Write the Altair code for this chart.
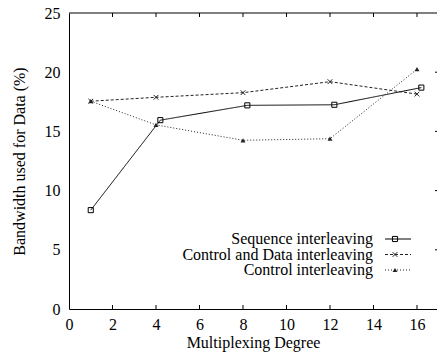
import altair as alt
import pandas as pd

# ---- data ----
series_names = ["Sequence interleaving", "Control and Data interleaving", "Control interleaving"]
seq_x = [1, 4.2, 8.2, 12.2, 16.2]
seq_y = [8.35, 15.95, 17.2, 17.25, 18.7]
cd_x = [1, 4, 8, 12, 16]
cd_y = [17.55, 17.88, 18.27, 19.2, 18.15]
ctl_x = [1, 4, 8, 12, 16]
ctl_y = [17.55, 15.55, 14.25, 14.38, 20.25]
x_ticks = [0, 2, 4, 6, 8, 10, 12, 14, 16]
y_ticks = [0, 5, 10, 15, 20, 25]

W, H = 368, 296
FONT = "Liberation Serif, Times New Roman, serif"
FS = 16

styles = {
    "Sequence interleaving": dict(dash=[1, 0], shape="square", filled=False, color="#000000", size=26),
    "Control and Data interleaving": dict(dash=[3, 2], shape="M-1,-1L1,1M1,-1L-1,1", filled=False, color="#222222", size=22),
    "Control interleaving": dict(dash=[1, 2], shape="triangle-up", filled=True, color="#222222", size=24),
}

frames = []
for name, xs, ys in zip(series_names, [seq_x, cd_x, ctl_x], [seq_y, cd_y, ctl_y]):
    frames.append(pd.DataFrame({"series": name, "x": xs, "y": ys}))
df = pd.concat(frames, ignore_index=True)

xscale = alt.Scale(domain=[0, 16.92], nice=False, zero=False)
yscale = alt.Scale(domain=[0, 25], nice=False)

xenc = alt.X("x:Q", scale=xscale,
             axis=alt.Axis(values=x_ticks, title="Multiplexing Degree", tickSize=0,
                           labelPadding=7, labelFontSize=FS, titleFontSize=FS,
                           titleFontWeight="normal", titlePadding=2, grid=False,
                           domainColor="#000", labelColor="#000", titleColor="#000",
                           labelFont=FONT, titleFont=FONT, labelFlush=False))
yenc = alt.Y("y:Q", scale=yscale,
             axis=alt.Axis(values=y_ticks, title="Bandwidth used for Data (%)", tickSize=0,
                           labelPadding=9, labelFontSize=FS, titleFontSize=FS,
                           titleFontWeight="normal", titlePadding=17, grid=False,
                           domainColor="#000", labelColor="#000", titleColor="#000",
                           labelFont=FONT, titleFont=FONT))

layers = []
for name in series_names:
    st = styles[name]
    sub = df[df.series == name]
    base = alt.Chart(sub)
    layers.append(base.mark_line(color=st["color"], strokeWidth=1, strokeDash=st["dash"]).encode(x=xenc, y=yenc))
    layers.append(base.mark_point(shape=st["shape"], filled=st["filled"], color=st["color"],
                                  size=st["size"], strokeWidth=1, opacity=1).encode(x="x:Q", y="y:Q"))

# frame decorations (gnuplot style inward ticks, top border)
tick_df = pd.DataFrame({"x": x_ticks[1:]})
layers.append(alt.Chart(tick_df).mark_rule(color="#000", strokeWidth=1).encode(
    x="x:Q", y=alt.value(0), y2=alt.value(4)))
layers.append(alt.Chart(tick_df).mark_rule(color="#000", strokeWidth=1).encode(
    x="x:Q", y=alt.value(H), y2=alt.value(H - 4)))
ytick_df = pd.DataFrame({"y": y_ticks[1:-1]})
layers.append(alt.Chart(ytick_df).mark_rule(color="#000", strokeWidth=1).encode(
    y="y:Q", x=alt.value(W - 2), x2=alt.value(W)))
layers.append(alt.Chart(pd.DataFrame({"a": [0]})).mark_rule(color="#000", strokeWidth=1).encode(
    x=alt.value(0), x2=alt.value(W), y=alt.value(0)))

# manual legend (labels left of samples, gnuplot style)
leg = pd.DataFrame({"series": series_names, "row": [0, 1, 2]})
for i, name in enumerate(series_names):
    st = styles[name]
    row = leg[leg.series == name]
    yy = 226 + i * 15.5
    layers.append(alt.Chart(row).mark_text(align="right", baseline="middle", font=FONT,
                                           fontSize=FS, color="#000").encode(
        x=alt.value(304), y=alt.value(yy), text="series:N"))
    layers.append(alt.Chart(row).mark_rule(color=st["color"], strokeWidth=1, strokeDash=st["dash"]).encode(
        x=alt.value(316), x2=alt.value(342), y=alt.value(yy)))
    layers.append(alt.Chart(row).mark_point(shape=st["shape"], filled=st["filled"], color=st["color"],
                                            size=st["size"], strokeWidth=1, opacity=1).encode(
        x=alt.value(326), y=alt.value(yy)))

chart = alt.layer(*layers).properties(
    width=W, height=H,
    padding={"left": 69, "top": 13, "right": 0, "bottom": 45},
    autosize=alt.AutoSizeParams(type="none"),
    background="white",
).configure(font=FONT).configure_view(stroke=None)

chart.save("out.html", embed_options={"renderer": "svg", "actions": False})
